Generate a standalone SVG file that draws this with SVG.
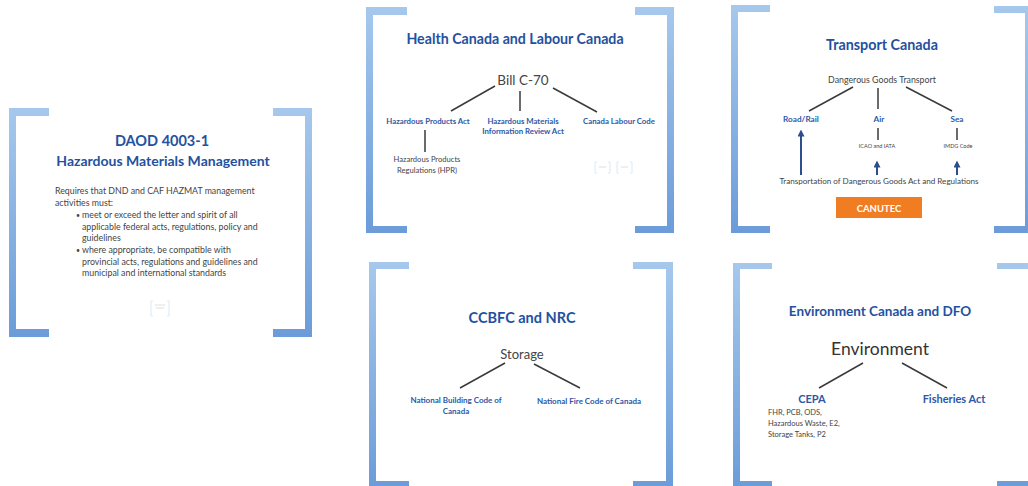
<svg xmlns="http://www.w3.org/2000/svg" width="1028" height="486" viewBox="0 0 1028 486">
<defs>
<linearGradient id="br" x1="0" y1="0" x2="0" y2="1">
<stop offset="0" stop-color="#a6c8ec"/>
<stop offset="1" stop-color="#6b9cd9"/>
</linearGradient>
<marker id="ah" viewBox="0 0 10 10" refX="5" refY="5" markerWidth="7" markerHeight="7" orient="auto-start-reverse" markerUnits="userSpaceOnUse">
<path d="M0,0 L10,5 L0,10 z" fill="#2c4e8c"/>
</marker>
<style>
.br{fill:url(#br)}
.t{font-family:Lato,"Liberation Sans",sans-serif;font-weight:bold;fill:#24519f;text-anchor:middle}
.b{font-family:Lato,"Liberation Sans",sans-serif;font-weight:bold;fill:#2d58a6;text-anchor:middle}
.g{font-family:Lato,"Liberation Sans",sans-serif;fill:#444;text-anchor:middle}
.gl{font-family:Lato,"Liberation Sans",sans-serif;fill:#444}
.ln{stroke:#3a3a3a;stroke-width:1.5;fill:none}
.ar{stroke:#2c4e8c;stroke-width:2;fill:none}
.ic{fill:none;stroke:#dde8f6;stroke-width:1}
.icl{stroke:#d6d6e0;stroke-width:0.8}
</style>
</defs>
<rect width="1028" height="486" fill="#fff"/>

<g id="panel-daod">
<path class="br" d="M9,108 H49 V116 H16 V329 H49 V337 H9 Z"/>
<path class="br" d="M312,108 H273 V116 H305 V329 H273 V337 H312 Z"/>
<text class="t" x="162" y="146" font-size="14.5">DAOD 4003-1</text>
<text class="t" x="163" y="166" font-size="14">Hazardous Materials Management</text>
<text class="gl" x="55" y="194" font-size="8.8">Requires that DND and CAF HAZMAT management</text>
<text class="gl" x="55" y="206" font-size="8.8">activities must:</text>
<text class="gl" x="76" y="218" font-size="7">•</text>
<text class="gl" x="82" y="218" font-size="8.8">meet or exceed the letter and spirit of all</text>
<text class="gl" x="82" y="230" font-size="8.8">applicable federal acts, regulations, policy and</text>
<text class="gl" x="82" y="241" font-size="8.8">guidelines</text>
<text class="gl" x="76" y="253" font-size="7">•</text>
<text class="gl" x="82" y="253" font-size="8.8">where appropriate, be compatible with</text>
<text class="gl" x="82" y="265" font-size="8.8">provincial acts, regulations and guidelines and</text>
<text class="gl" x="82" y="276" font-size="8.8">municipal and international standards</text>
<g id="thumb-daod">
<path class="ic" d="M153,301 H151 V316 H153 M167,301 H169 V316 H167"/>
<line class="icl" x1="155" y1="305" x2="165" y2="305"/>
<line class="icl" x1="156" y1="308" x2="164" y2="308"/>
</g>
</g>

<g id="panel-health">
<path class="br" d="M366,7 H407 V15 H373 V226 H407 V233 H366 Z"/>
<path class="br" d="M674,7 H635 V15 H667 V226 H635 V233 H674 Z"/>
<text class="t" x="515" y="44" font-size="14.2">Health Canada and Labour Canada</text>
<g id="bill-c70"><text class="g" x="523" y="85" font-size="13.5">Bill C-70</text></g>
<g id="hpa"><text class="b" x="428" y="124" font-size="7.8">Hazardous Products Act</text></g>
<g id="hmira"><text class="b" x="523" y="124" font-size="7.8">Hazardous Materials</text>
<text class="b" x="523" y="134" font-size="7.8">Information Review Act</text></g>
<g id="clc"><text class="b" x="619" y="124" font-size="7.8">Canada Labour Code</text></g>
<g id="hpr"><text class="g" x="427" y="162" font-size="7.6">Hazardous Products</text>
<text class="g" x="427" y="173" font-size="7.6">Regulations (HPR)</text></g>
<g id="thumbs-health">
<path class="ic" d="M597,162 H595 V173 H597 M608,162 H610 V173 H608"/>
<line class="icl" x1="599" y1="167" x2="606" y2="167"/>
<path class="ic" d="M619,162 H617 V173 H619 M630,162 H632 V173 H630"/>
<line class="icl" x1="621" y1="167" x2="628" y2="167"/>
</g>
</g>

<g id="panel-transport">
<path class="br" d="M731,5 H770 V12 H738 V226 H770 V233 H731 Z"/>
<path class="br" d="M1032,6 H994 V13 H1025 V226 H994 V233 H1032 Z"/>
<text class="t" x="882" y="50" font-size="14.3">Transport Canada</text>
<g id="dgt"><text class="g" x="882" y="83" font-size="8.8">Dangerous Goods Transport</text></g>
<g id="road"><text class="b" x="801" y="122" font-size="8.2">Road/Rail</text></g>
<g id="air"><text class="b" x="879" y="122" font-size="8.2">Air</text></g>
<g id="sea"><text class="b" x="957" y="122" font-size="8.2">Sea</text></g>
<g id="icao"><text class="g" x="877" y="148" font-size="5.5">ICAO and IATA</text></g>
<g id="imdg"><text class="g" x="958" y="148" font-size="5.5">IMDG Code</text></g>
<g id="tdg"><text class="g" x="879" y="184" font-size="8.1">Transportation of Dangerous Goods Act and Regulations</text></g>
<g id="canutec">
<rect x="836" y="197" width="86" height="21" fill="#f07d22"/>
<text x="879" y="211.5" font-size="9.5" font-family="Lato,'Liberation Sans',sans-serif" font-weight="bold" fill="#fff" text-anchor="middle">CANUTEC</text>
</g>
</g>

<g id="panel-ccbfc">
<path class="br" d="M369,262 H409 V269 H376 V481 H409 V488 H369 Z"/>
<path class="br" d="M673,262 H633 V269 H666 V481 H633 V488 H673 Z"/>
<text class="t" x="522" y="323" font-size="14.5">CCBFC and NRC</text>
<g id="storage"><text class="g" x="522" y="359" font-size="13">Storage</text></g>
<g id="nbc"><text class="b" x="456" y="403" font-size="8">National Building Code of</text>
<text class="b" x="456" y="414" font-size="8">Canada</text></g>
<g id="nfc"><text class="b" x="589" y="404" font-size="8">National Fire Code of Canada</text></g>
</g>

<g id="panel-env">
<path class="br" d="M733,263 H772 V269 H740 V481 H772 V488 H733 Z"/>
<path class="br" d="M1035,263 H997 V269 H1028 V481 H997 V488 H1035 Z"/>
<text class="t" x="880" y="316" font-size="13.5">Environment Canada and DFO</text>
<g id="environment"><text x="880" y="355" font-size="17.5" font-family="Lato,'Liberation Sans',sans-serif" fill="#333" text-anchor="middle">Environment</text></g>
<g id="cepa"><text class="b" x="812" y="403" font-size="11">CEPA</text>
<text class="gl" x="768" y="415" font-size="7.5">FHR, PCB, ODS,</text>
<text class="gl" x="768" y="426" font-size="7.5">Hazardous Waste, E2,</text>
<text class="gl" x="768" y="437" font-size="7.5">Storage Tanks, P2</text></g>
<g id="fisheries"><text class="b" x="954" y="403" font-size="11">Fisheries Act</text></g>
</g>

<g id="connectors">
<line class="ln" x1="495" y1="86" x2="451" y2="111"/>
<line class="ln" x1="520" y1="91" x2="520" y2="111"/>
<line class="ln" x1="553" y1="88" x2="597" y2="112"/>
<line class="ln" x1="425" y1="130" x2="425" y2="152"/>
<line class="ln" x1="853" y1="87" x2="809" y2="111"/>
<line class="ln" x1="878" y1="88" x2="878" y2="109"/>
<line class="ln" x1="906" y1="87" x2="952" y2="111"/>
<line class="ln" x1="878" y1="128" x2="878" y2="140"/>
<line class="ln" x1="957" y1="128" x2="957" y2="140"/>
<line class="ar" x1="801" y1="175" x2="801" y2="133" marker-end="url(#ah)"/>
<line class="ar" x1="877" y1="175" x2="877" y2="164" marker-end="url(#ah)"/>
<line class="ar" x1="957" y1="175" x2="957" y2="164" marker-end="url(#ah)"/>
<line class="ln" x1="505" y1="363" x2="460" y2="388"/>
<line class="ln" x1="534" y1="364" x2="580" y2="388"/>
<line class="ln" x1="863" y1="363" x2="819" y2="388"/>
<line class="ln" x1="902" y1="363" x2="947" y2="388"/>
</g>
</svg>
